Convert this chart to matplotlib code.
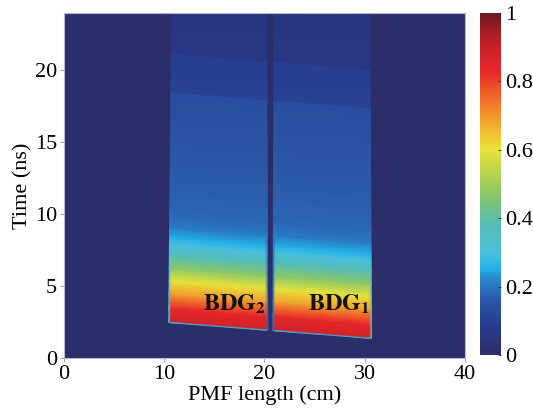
import numpy as np
import matplotlib
matplotlib.use('Agg')
import matplotlib.pyplot as plt
from matplotlib.colors import LinearSegmentedColormap

plt.rcParams['font.family'] = ['Liberation Serif', 'DejaVu Serif']
plt.rcParams['mathtext.fontset'] = 'stix'
plt.rcParams['font.size'] = 16

# colour scale nodes (value, colour)
cmap_pos = [0.00, 0.08, 0.16, 0.22, 0.25, 0.30, 0.38, 0.46, 0.54, 0.60, 0.65, 0.70, 0.76, 0.83, 0.92, 1.00]
cmap_col = ['#2c2e6a', '#283a8c', '#2b58a8', '#2a86cc', '#22b0e8', '#4cc0dc', '#55bdb5', '#84c56e',
            '#bcd64a', '#e6e23a', '#f2c030', '#f3952c', '#ef6428', '#e8282a', '#c01f27', '#6e1a20']

# normalised gain vs time after the pump onset (ns)
tau = [0.0, 0.12, 1.0, 2.0, 2.9, 3.8, 4.7, 5.4, 5.9, 6.6, 7.5, 10.0, 13.0, 16.0, 16.1, 18.7, 18.8, 24.0]
amp = [0.28, 0.88, 0.83, 0.69, 0.60, 0.47, 0.38, 0.30, 0.25, 0.21, 0.18, 0.165, 0.15, 0.135, 0.105, 0.09, 0.065, 0.055]

# gratings: x of left/right edges at bottom and top (cm), edge-line levels
strip_names = [r'$\mathbf{BDG_2}$', r'$\mathbf{BDG_1}$']
x_left_bot = [10.45, 20.85]
x_left_top = [10.80, 21.00]
x_right_bot = [20.35, 30.70]
x_right_top = [20.20, 30.50]
edge_left = [0.32, 0.2]
edge_right = [0.18, 0.4]
label_x = [13.9, 24.4]
label_t = [3.3, 3.3]

# onset time along the fibre (linear walk-off)
onset_x = [10.45, 30.7]
onset_t = [2.45, 1.35]

cmap = LinearSegmentedColormap.from_list('gain', list(zip(cmap_pos, cmap_col)))

fig = plt.figure(figsize=(5.33, 4.19), dpi=100)
ax = fig.add_axes([0.120, 0.146, 0.752, 0.823])
ax.set_facecolor(cmap(0.0))

tau_a = np.array(tau)
amp_a = np.array(amp)
slope = (onset_t[1] - onset_t[0]) / (onset_x[1] - onset_x[0])
ew = 0.22  # width of the edge lines (cm)
for i in range(2):
    frac = tau_a / tau_a[-1]
    xl = x_left_bot[i] + (x_left_top[i] - x_left_bot[i]) * frac
    xr = x_right_bot[i] + (x_right_top[i] - x_right_bot[i]) * frac
    X = np.column_stack([xl, xl + ew, xr - ew, xr])
    T0 = onset_t[0] + slope * (X - onset_x[0])
    Y = T0 + tau_a[:, None]
    C = np.column_stack([np.minimum(amp_a, edge_left[i]), amp_a, amp_a,
                         np.minimum(amp_a, edge_right[i])])
    mesh = ax.pcolormesh(X, Y, C, cmap=cmap, vmin=0, vmax=1, shading='gouraud')
    ax.text(label_x[i], label_t[i], strip_names[i], fontsize=17.5,
            ha='left', va='baseline', color='#111111')

ax.set_xlim(0, 40)
ax.set_ylim(0, 24)
ax.set_xticks([0, 10, 20, 30, 40])
ax.set_yticks([0, 5, 10, 15, 20])
ax.tick_params(direction='out', length=3, width=0.6, color='#888888', pad=2)
for s in ax.spines.values():
    s.set_color('#b8b8cc')
    s.set_linewidth(0.8)
ax.set_xlabel('PMF length (cm)', labelpad=1)
ax.set_ylabel('Time (ns)', labelpad=2)

cax = fig.add_axes([0.9006, 0.153, 0.0394, 0.816])
cb = fig.colorbar(mesh, cax=cax, ticks=[0, 0.2, 0.4, 0.6, 0.8, 1.0])
cb.ax.set_yticklabels(['0', '0.2', '0.4', '0.6', '0.8', '1'])
cb.outline.set_visible(False)
cb.ax.tick_params(direction='in', length=2, width=0.6, color='#333333', pad=3)

fig.savefig('out.png', dpi=100)
